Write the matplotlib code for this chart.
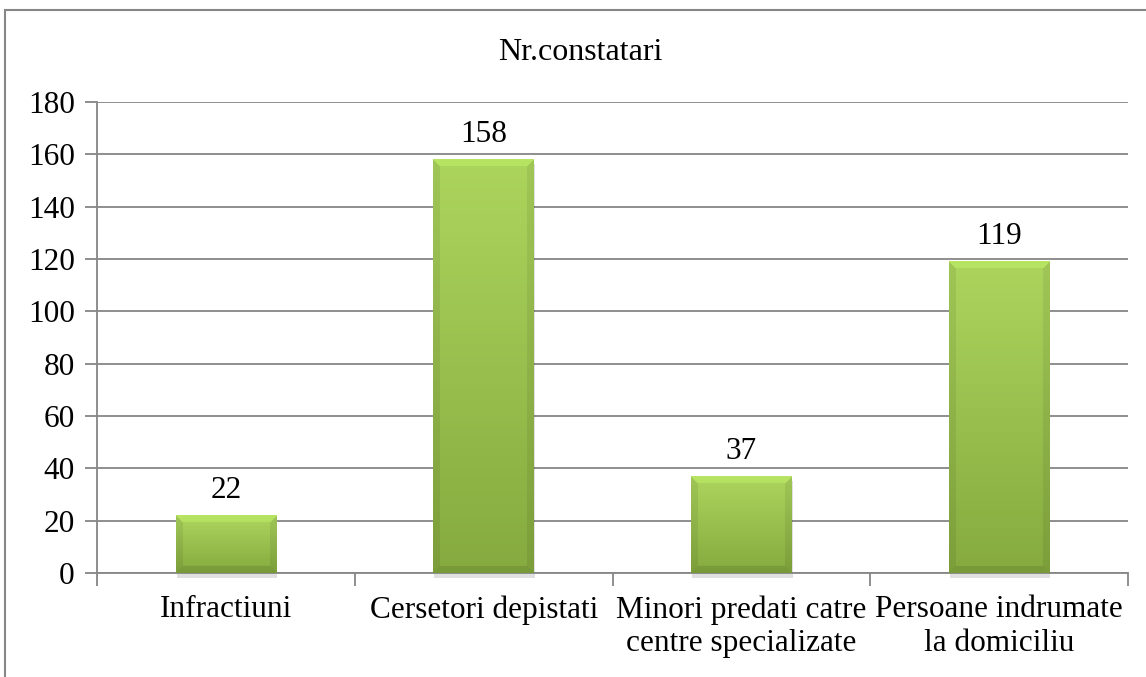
import numpy as np
import matplotlib.pyplot as plt
from matplotlib.patches import Rectangle
from matplotlib.colors import to_rgb

plt.rcParams['font.family'] = ['Liberation Serif', 'DejaVu Serif']

categories = ['Infractiuni', 'Cersetori depistati',
              'Minori predati catre\ncentre specializate',
              'Persoane indrumate\nla domiciliu']
values = [22, 158, 37, 119]
title = 'Nr.constatari'
yticks = [0, 20, 40, 60, 80, 100, 120, 140, 160, 180]

FS = 22.5
grey = '#868686'

fig = plt.figure(figsize=(11.46, 6.77), dpi=100)
# outer chart frame (runs off the right and bottom edges)
fig.patches.append(Rectangle((5 / 1146, -0.05), 1.1, 1 - 10 / 677 + 0.05,
                             transform=fig.transFigure, fill=False,
                             edgecolor=grey, linewidth=1.5))

ax = fig.add_axes([97 / 1146, 1 - 573 / 677, (1128 - 97) / 1146, (573 - 102) / 677])

for s in ['top', 'right']:
    ax.spines[s].set_visible(False)
for s in ['left', 'bottom']:
    ax.spines[s].set_color(grey)
    ax.spines[s].set_linewidth(1.3)

ax.set_yticks(yticks)
ax.yaxis.grid(True, color=grey, linewidth=1.3)
ax.set_axisbelow(True)
ax.tick_params(axis='y', length=9, width=1.3, color=grey, labelsize=FS, pad=7)

# category boundaries as major x ticks, names on minor ticks
ax.set_xticks(np.arange(len(categories) + 1))
ax.set_xticklabels([])
ax.set_xticks(np.arange(len(categories)) + 0.5, minor=True)
ax.set_xticklabels(categories, minor=True, fontsize=FS)
ax.tick_params(axis='x', which='major', length=9, width=1.3, color=grey)
ax.tick_params(axis='x', which='minor', length=0, pad=16)


def bevel_image(hpx, wpx, b=7):
    # vertical light->dark fill with bevelled edges
    top = np.array(to_rgb('#acd55d'))
    bot = np.array(to_rgb('#86aa3f'))
    yy, xx = np.mgrid[0:hpx, 0:wpx]
    t = (yy / max(hpx - 1, 1))[..., None]
    img = top * (1 - t) + bot * t
    dl, dr = xx, wpx - 1 - xx
    dt, db = yy, hpx - 1 - yy
    m = np.minimum(np.minimum(dl, dr), np.minimum(dt, db))
    inb = m < b
    fac = np.ones((hpx, wpx))
    fac[inb & (dt == m)] = 1.07
    fac[inb & (db == m)] = 0.9
    fac[inb & ((dl == m) | (dr == m)) & (dt != m)] = 0.93
    fac[inb & ((dl == m) | (dr == m)) & (db == m)] = 0.9
    return np.clip(img * fac[..., None], 0, 1)


w = 0.39
px_per_unit = 471 / 180
for i, v in enumerate(values):
    x0 = i + 0.5 - w / 2
    # soft shadow under the bar
    ax.add_patch(Rectangle((x0 + 0.004, -1.8), w, v, facecolor='#000000',
                           alpha=0.12, edgecolor='none', zorder=2, clip_on=False))
    hpx = max(int(v * px_per_unit), 2)
    ax.imshow(bevel_image(hpx, 101), aspect='auto', extent=(x0, x0 + w, 0, v),
              zorder=3, interpolation='bilinear')
    ax.text(i + 0.5, v + 4, str(v), ha='center', va='bottom', fontsize=FS, zorder=5)

ax.set_xlim(0, len(categories))
ax.set_ylim(0, 180)
fig.text(580 / 1146, 1 - 52 / 677, title, ha='center', va='center', fontsize=23)

fig.savefig('out.png', dpi=100)
